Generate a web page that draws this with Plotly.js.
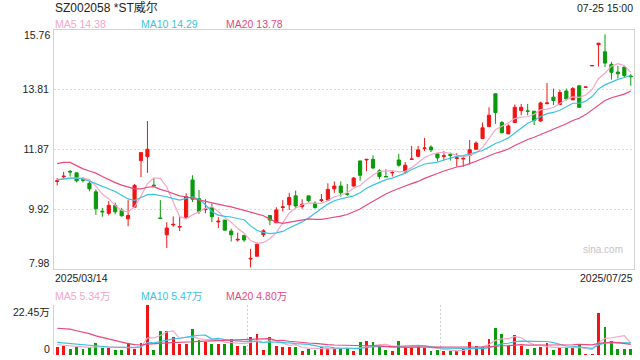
<!DOCTYPE html>
<html>
<head>
<meta charset="utf-8">
<script src="https://cdn.plot.ly/plotly-3.0.1.min.js"></script>
<style>html,body{margin:0;padding:0;background:#fff;}#chart{width:640px;height:360px;}</style>
</head>
<body>
<div id="chart"></div>
<script>
const stockTitle = 'SZ002058 *ST威尔';
const stampText = '07-25 15:00';
const dateLabels = ['2025/03/14', '2025/07/25'];
const priceTicks = [15.76, 13.81, 11.87, 9.92, 7.98];
const volTicks = [22.45, 0];
const priceMaLabels = ['MA5 14.38', 'MA10 14.29', 'MA20 13.78'];
const volMaLabels = ['MA5 5.34万', 'MA10 5.47万', 'MA20 4.80万'];

const opens = [10.82,10.97,11.15,11.10,10.88,10.76,10.48,9.85,9.78,10.04,
  9.88,9.60,9.98,11.50,11.63,10.70,9.63,9.08,9.40,9.33,
  9.65,10.87,10.26,9.90,9.97,9.50,9.56,9.20,8.91,9.06,
  8.29,8.38,9.08,9.71,9.47,9.97,10.06,10.35,10.00,10.35,
  10.11,10.20,10.21,10.58,10.67,10.42,10.67,11.49,11.52,11.54,
  11.17,10.98,11.10,11.52,11.13,11.54,11.64,11.90,11.94,11.72,
  11.64,11.70,11.57,11.55,11.67,11.87,12.22,12.61,13.68,12.74,
  12.37,12.74,13.13,13.12,13.11,12.79,13.36,13.57,13.33,13.77,
  13.48,13.94,13.89,14.59,15.28,15.05,14.64,14.39,14.55,14.26];
const highs = [10.93,11.13,11.19,11.10,10.96,10.84,10.56,9.96,10.18,10.13,
  9.96,10.21,10.74,11.76,12.79,10.93,10.21,9.49,9.68,9.66,
  10.43,11.02,10.54,10.24,10.10,9.65,9.56,9.28,9.15,9.06,
  8.62,8.83,9.26,9.71,9.98,10.21,10.45,10.52,10.24,10.35,
  10.17,10.41,10.76,10.82,10.82,10.74,10.96,11.49,11.54,11.67,
  11.22,11.22,11.17,11.72,11.45,11.98,11.98,12.24,12.00,11.72,
  11.81,11.76,11.74,11.65,12.17,12.13,12.74,13.24,13.68,12.79,
  12.68,13.33,13.35,13.35,13.11,13.42,14.03,13.85,13.81,13.85,
  13.90,13.94,13.90,14.60,15.33,15.62,14.72,14.59,14.55,14.33];
const lows = [10.69,10.91,10.98,10.79,10.79,10.50,9.73,9.67,9.71,9.75,
  9.67,9.36,9.95,10.96,11.10,10.68,9.61,8.65,9.34,9.20,
  9.62,10.15,9.76,9.78,9.49,9.30,9.23,8.86,8.86,8.85,
  8.01,8.38,9.01,9.39,9.47,9.84,9.89,9.95,9.93,10.15,
  9.93,10.15,10.19,10.45,10.32,10.35,10.65,10.84,11.15,11.22,
  10.89,10.96,10.98,11.30,11.06,11.54,11.61,11.81,11.78,11.48,
  11.50,11.50,11.30,11.30,11.37,11.85,12.20,12.59,12.70,12.39,
  12.37,12.74,12.98,12.98,12.66,12.77,13.33,13.31,13.31,13.46,
  13.48,13.22,13.89,14.59,14.57,14.55,14.14,14.18,14.20,13.94];
const closes = [10.84,10.99,11.13,10.84,10.86,10.58,9.93,9.83,10.04,9.83,
  9.70,9.71,10.69,11.76,11.87,10.68,9.61,9.30,9.42,9.35,
  10.32,10.24,9.84,9.93,9.67,9.52,9.23,9.08,8.93,8.91,
  8.31,8.77,9.21,9.56,9.89,9.99,10.30,10.02,10.08,10.19,
  9.97,10.22,10.56,10.67,10.45,10.40,10.93,11.02,11.54,11.26,
  10.98,10.97,11.11,11.35,11.35,11.55,11.85,11.91,11.85,11.59,
  11.66,11.67,11.59,11.57,11.85,12.07,12.57,12.98,13.07,12.41,
  12.63,13.24,13.24,13.11,12.81,13.38,13.38,13.46,13.72,13.51,
  13.85,13.24,13.90,14.60,15.33,14.68,14.38,14.33,14.27,14.24];

const ma5 = [10.88,10.91,10.93,10.93,10.93,10.88,10.67,10.41,10.25,10.04,
  9.87,9.82,9.99,10.34,10.75,10.94,10.92,10.64,10.18,9.67,
  9.60,9.73,9.83,9.94,10.00,9.84,9.64,9.49,9.29,9.13,
  8.89,8.80,8.83,8.95,9.15,9.48,9.79,9.95,10.06,10.12,
  10.11,10.10,10.20,10.32,10.37,10.46,10.60,10.69,10.87,11.03,
  11.15,11.15,11.17,11.13,11.15,11.27,11.44,11.60,11.70,11.75,
  11.77,11.74,11.67,11.62,11.67,11.75,11.93,12.21,12.51,12.62,
  12.73,12.87,12.92,12.93,13.01,13.16,13.18,13.23,13.35,13.49,
  13.58,13.56,13.64,13.82,14.18,14.35,14.58,14.66,14.60,14.38];
const ma10 = [10.87,10.90,10.93,10.93,10.90,10.83,10.74,10.67,10.57,10.49,
  10.37,10.25,10.20,10.29,10.39,10.40,10.37,10.32,10.26,10.21,
  10.27,10.32,10.24,10.06,9.84,9.72,9.68,9.66,9.61,9.57,
  9.37,9.22,9.16,9.12,9.14,9.19,9.30,9.39,9.50,9.63,
  9.80,9.94,10.08,10.19,10.25,10.29,10.35,10.45,10.60,10.70,
  10.80,10.88,10.93,11.00,11.09,11.21,11.30,11.39,11.42,11.45,
  11.52,11.59,11.64,11.66,11.71,11.76,11.83,11.94,12.06,12.14,
  12.24,12.40,12.56,12.72,12.81,12.94,13.03,13.07,13.14,13.25,
  13.37,13.37,13.44,13.59,13.84,13.97,14.07,14.15,14.21,14.28];
const ma20 = [11.40,11.44,11.44,11.34,11.23,11.16,11.09,10.98,10.87,10.78,
  10.70,10.63,10.58,10.58,10.63,10.65,10.56,10.50,10.42,10.35,
  10.32,10.28,10.22,10.17,10.12,10.06,10.03,9.99,9.93,9.89,
  9.82,9.77,9.70,9.59,9.49,9.45,9.49,9.52,9.56,9.60,
  9.58,9.58,9.62,9.65,9.69,9.74,9.82,9.92,10.05,10.17,
  10.30,10.41,10.51,10.60,10.67,10.75,10.82,10.92,11.01,11.08,
  11.16,11.23,11.29,11.33,11.40,11.48,11.57,11.66,11.74,11.80,
  11.88,11.99,12.10,12.19,12.26,12.35,12.43,12.51,12.60,12.70,
  12.81,12.88,13.00,13.15,13.33,13.46,13.55,13.61,13.67,13.77];

const volumes = [3.7,4.2,2.8,3.7,2.8,3.4,5.4,3.3,3.3,2.2,
  2.2,5.4,2.8,5.4,22.45,2.2,10.8,10.8,8.1,5.1,
  5.1,11.7,6.9,6.0,5.1,5.1,5.1,7.2,4.0,4.0,
  8.1,9.4,2.2,8.1,4.2,3.6,3.6,3.6,1.8,2.8,
  2.4,3.6,3.3,2.8,2.8,2.8,1.8,5.8,6.3,5.8,
  3.7,2.2,1.8,6.3,3.7,3.7,4.2,3.3,1.8,2.2,
  1.8,1.8,1.8,2.7,5.8,4.0,3.7,7.2,12.1,9.4,
  4.2,9.0,4.0,2.7,3.1,3.6,5.4,2.2,3.1,3.1,
  3.1,4.9,0.45,0.45,18.9,12.6,6.3,2.7,2.7,2.7];
const vma5 = [4.6,4.3,4.0,3.7,3.44,3.38,3.62,3.72,3.64,3.52,
  3.28,3.28,3.18,3.60,7.65,7.65,8.73,10.33,10.87,7.40,
  7.98,8.16,7.38,6.96,6.96,6.96,5.64,5.70,5.30,5.08,
  5.68,6.54,5.54,6.36,6.40,5.50,4.34,4.62,3.36,3.08,
  2.84,2.84,2.78,2.98,2.98,3.06,2.70,3.20,3.90,4.50,
  4.68,4.76,3.96,3.96,3.54,3.54,3.94,4.24,3.34,3.04,
  2.66,2.18,1.88,2.06,2.78,3.22,3.60,4.68,6.56,7.28,
  7.32,8.38,7.74,5.86,4.60,4.48,3.76,3.40,3.48,3.48,
  3.38,3.28,2.93,2.40,5.56,7.46,7.74,8.19,8.64,5.40];
const vma10 = [5.7,5.4,5.1,4.8,4.5,4.3,4.0,3.8,3.6,3.48,
  3.33,3.45,3.45,3.62,5.59,5.47,6.01,6.76,7.24,7.53,
  7.82,8.45,8.86,8.92,7.18,7.47,6.90,6.54,6.13,6.02,
  6.32,6.09,5.62,5.83,5.74,5.59,5.44,5.08,4.86,4.74,
  4.17,3.59,3.70,3.17,3.03,2.95,2.77,2.99,3.44,3.74,
  3.87,3.73,3.58,3.93,4.02,4.11,4.35,4.10,3.65,3.29,
  3.10,3.06,3.06,2.70,2.91,2.94,2.89,3.28,4.31,5.03,
  5.27,5.99,6.21,6.21,5.94,5.90,6.07,5.57,4.67,4.04,
  3.93,3.52,3.17,2.94,4.52,5.42,5.51,5.56,5.52,5.48];
const vma20 = [12.0,11.9,11.6,10.9,10.4,9.6,8.6,7.9,7.2,6.2,
  5.6,5.1,4.7,4.5,4.9,4.9,5.2,5.4,5.5,5.50,
  5.57,5.95,6.15,6.27,6.38,6.47,6.45,6.65,6.68,6.77,
  7.07,7.27,7.24,7.37,6.46,6.53,6.17,5.81,5.50,5.38,
  5.25,4.84,4.66,4.50,4.39,4.27,4.11,4.04,4.15,4.24,
  4.02,3.66,3.64,3.55,3.53,3.53,3.56,3.55,3.55,3.52,
  3.49,3.40,3.32,3.32,3.47,3.53,3.62,3.69,3.98,4.16,
  4.19,4.53,4.64,4.46,4.43,4.42,4.48,4.43,4.49,4.54,
  4.60,4.76,4.69,4.58,5.23,5.66,5.79,5.57,5.10,4.76];

const RED = '#f01515', GREEN = '#0b9a0b';
const C5 = '#f7a6c6', C10 = '#3cc3e4', C20 = '#e8497f';
const FONT = '"Liberation Sans", Arial, "Noto Sans CJK SC", sans-serif';

const idx = closes.map((_, i) => i);
const volColors = closes.map((c, i) => c >= opens[i] ? RED : GREEN);

// pixel helpers for text placement (plot area: x 54..634, y 30..355)
const PX = x => (x - 54) / 580;
const PY = y => (355 - y) / 325;

const line = (y, color, xa, ya) => ({type: 'scatter', mode: 'lines', x: idx, y: y,
  xaxis: xa, yaxis: ya, line: {color: color, width: 1.2}, hoverinfo: 'skip'});

const traces = [
  {type: 'candlestick', x: idx, open: opens, high: highs, low: lows, close: closes,
   xaxis: 'x', yaxis: 'y', hoverinfo: 'skip', whiskerwidth: 0,
   increasing: {line: {color: RED, width: 1}, fillcolor: RED},
   decreasing: {line: {color: GREEN, width: 1}, fillcolor: GREEN}},
  line(ma5, C5, 'x', 'y'), line(ma10, C10, 'x', 'y'), line(ma20, C20, 'x', 'y'),
  {type: 'bar', x: idx, y: volumes, xaxis: 'x2', yaxis: 'y2', width: 0.45,
   marker: {color: volColors, line: {width: 0}}, hoverinfo: 'skip'},
  line(vma5, C5, 'x2', 'y2'), line(vma10, C10, 'x2', 'y2'), line(vma20, C20, 'x2', 'y2')
];

const ann = (text, x, y, xanchor, size, color, extra) => Object.assign({
  text: text, xref: 'paper', yref: 'paper', x: x, y: y, xanchor: xanchor, yanchor: 'middle',
  showarrow: false, font: {family: FONT, size: size, color: color}, borderpad: 0}, extra || {});

const annotations = [
  ann(stockTitle, 0, PY(7.5), 'left', 12, '#222'),
  ann(stampText, 1, PY(8), 'right', 10.5, '#222'),
  ann(priceMaLabels[0], 0, PY(24), 'left', 10.5, C5),
  ann(priceMaLabels[1], PX(140), PY(24), 'left', 10.5, C10),
  ann(priceMaLabels[2], PX(225), PY(24), 'left', 10.5, C20),
  ann(priceTicks[0].toFixed(2), PX(51), PY(35), 'right', 10.5, '#222'),
  ann(priceTicks[4].toFixed(2), PX(51), PY(263), 'right', 10.5, '#222'),
  ann(dateLabels[0], 0, PY(277.5), 'left', 10.5, '#222'),
  ann(dateLabels[1], 1, PY(277.5), 'right', 10.5, '#222'),
  ann('sina.com', PX(603), PY(249.5), 'center', 10, '#c4c4c4'),
  ann(volMaLabels[0], 0, PY(295.5), 'left', 10.5, C5),
  ann(volMaLabels[1], PX(140), PY(295.5), 'left', 10.5, C10),
  ann(volMaLabels[2], PX(225), PY(295.5), 'left', 10.5, C20),
  ann(volTicks[0].toFixed(2) + '万', PX(51), PY(311.5), 'right', 10.5, '#222'),
  ann(String(volTicks[1]), PX(51), PY(349), 'right', 10.5, '#222')
];

const midTicks = priceTicks.slice(1, 4);
const layout = {
  width: 640, height: 360,
  margin: {l: 54, r: 6, t: 30, b: 5, pad: 0},
  paper_bgcolor: '#fff', plot_bgcolor: '#fff',
  showlegend: false,
  font: {family: FONT, size: 10.5, color: '#222'},
  xaxis: {domain: [0, 1], anchor: 'y', range: [-0.5, 89.5], showgrid: false, zeroline: false,
    showline: true, mirror: true, linecolor: '#d2d2d2', linewidth: 1,
    showticklabels: false, ticks: '', rangeslider: {visible: false}, fixedrange: true},
  yaxis: {domain: [PY(268.5), 1], anchor: 'x', range: [priceTicks[4], priceTicks[0]],
    tickvals: midTicks, ticktext: midTicks.map(v => v.toFixed(2)),
    showgrid: true, gridcolor: '#dcdcdc', gridwidth: 1, griddash: '2px,2px',
    zeroline: false, showline: true, mirror: true, linecolor: '#d2d2d2', linewidth: 1,
    ticks: '', ticklabelstandoff: 2, tickfont: {family: FONT, size: 10.5, color: '#222'}, fixedrange: true},
  xaxis2: {domain: [0, 1], anchor: 'y2', range: [-0.5, 89.5], tickvals: [29.5, 59.5],
    showgrid: true, gridcolor: '#cfcfcf', gridwidth: 1, griddash: '2px,2px',
    showticklabels: false, ticks: '', zeroline: false, showline: false, fixedrange: true},
  yaxis2: {domain: [0, PY(305)], anchor: 'x2', range: [volTicks[1], volTicks[0]], tickvals: [volTicks[0]],
    showgrid: true, gridcolor: '#cfcfcf', gridwidth: 1, griddash: '2px,2px',
    showticklabels: false, ticks: '', zeroline: false, showline: true, linecolor: '#d2d2d2',
    linewidth: 1, fixedrange: true},
  bargap: 0,
  annotations: annotations
};

Plotly.newPlot('chart', traces, layout, {staticPlot: true, displayModeBar: false});
</script>
</body>
</html>
